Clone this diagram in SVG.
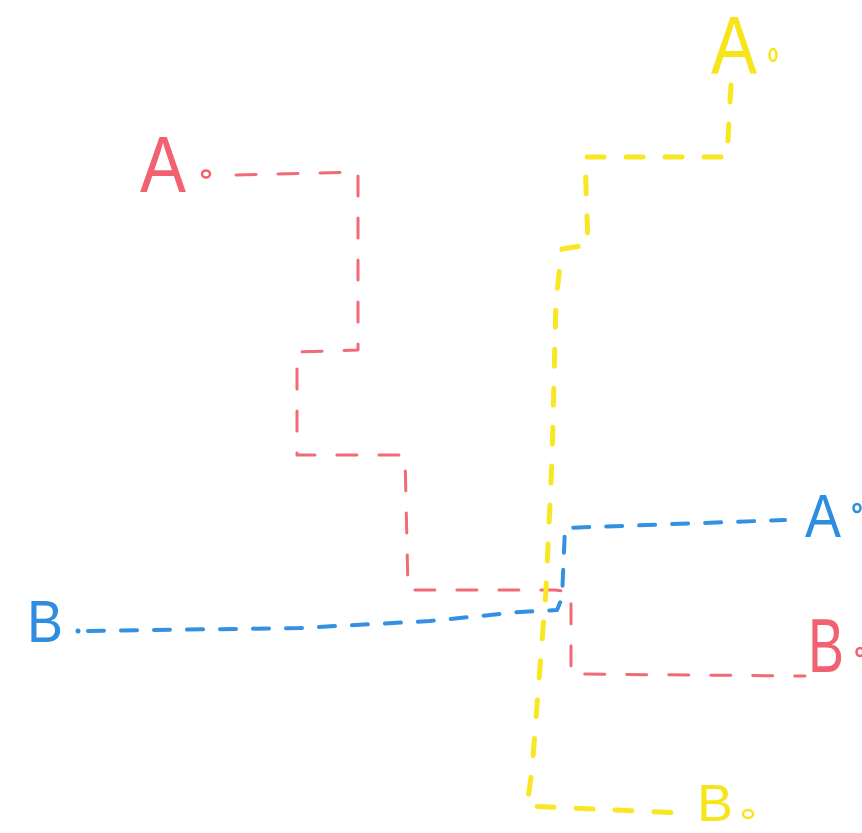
<svg xmlns="http://www.w3.org/2000/svg" width="862" height="833" viewBox="0 0 862 833">
<style>
.lbl{font-family:"Liberation Sans",Arial,sans-serif;font-weight:normal}
.red{fill:#f2616f}
.blue{fill:#2f8de0}
.yellow{fill:#f7e51c}
.dot{fill:none;stroke-width:2.5}
.c{fill:none;stroke-linecap:round;stroke-linejoin:round}
.cr{stroke:#f26a78;stroke-width:3;stroke-dasharray:20 22}
.cb{stroke:#3390e2;stroke-width:4;stroke-dasharray:16 17}
.cy{stroke:#f8e722;stroke-width:5;stroke-dasharray:17 22}
</style>
<rect width="862" height="833" fill="#ffffff"/>
<g id="connectors">
<path class="c cr" d="M236,175 L358,172 L358,350 L297,352 L297,455 L405,455 L408,590 L555,590 L571,592 L571,674 L805,676"/>
<path class="c cb" d="M88,631 L300,628 L430,621 L520,612 L557,610 L562,598 L565,528 L785,520"/>
<path class="c cy" d="M731,85 L727,157 L585,157 L588,245 L562,249 L556,300 L552,460 L546,590 L532,770 L527,806 L682,813"/>
</g>
<g id="node-A-red">
<text class="lbl red" x="140" y="192" font-size="80" textLength="46" lengthAdjust="spacingAndGlyphs">A</text>
<ellipse class="dot" cx="206" cy="174" rx="4" ry="3.5" stroke="#f2616f"/>
</g>
<g id="node-A0-yellow">
<text class="lbl yellow" x="711" y="73" font-size="82" textLength="46" lengthAdjust="spacingAndGlyphs">A</text>
<ellipse class="dot" cx="773" cy="55" rx="3.5" ry="6" stroke="#f7e51c"/>
</g>
<g id="node-A-blue">
<text class="lbl blue" x="805" y="537" font-size="62" textLength="36" lengthAdjust="spacingAndGlyphs">A</text>
<ellipse class="dot" cx="857" cy="508" rx="3.5" ry="4" stroke="#2f8de0"/>
</g>
<g id="node-B-red">
<text class="lbl red" x="808" y="672" font-size="76" textLength="36" lengthAdjust="spacingAndGlyphs">B</text>
<ellipse class="dot" cx="860" cy="652" rx="3.5" ry="4" stroke="#f2616f"/>
</g>
<g id="node-B-blue">
<text class="lbl blue" x="27" y="642" font-size="60" textLength="36" lengthAdjust="spacingAndGlyphs">B</text>
<circle cx="78" cy="631" r="2.5" fill="#2f8de0"/>
</g>
<g id="node-B0-yellow">
<text class="lbl yellow" x="697" y="821" font-size="52" textLength="36" lengthAdjust="spacingAndGlyphs">B</text>
<ellipse class="dot" cx="748" cy="814" rx="5" ry="4" stroke="#f7e51c"/>
</g>
</svg>
